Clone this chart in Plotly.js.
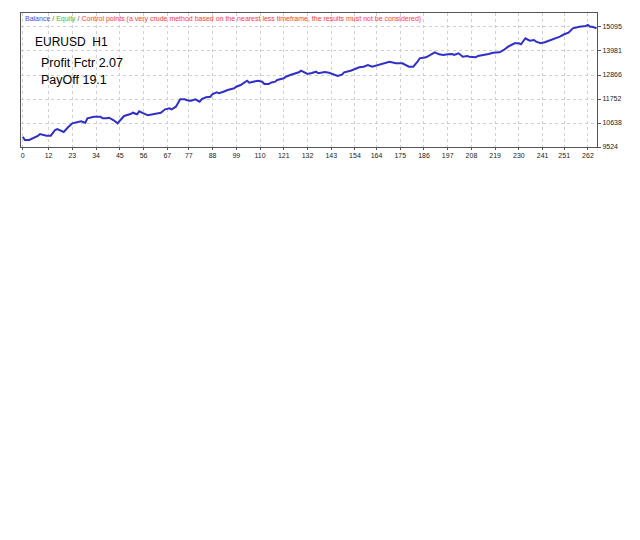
<!DOCTYPE html>
<html>
<head>
<meta charset="utf-8">
<script src="https://cdn.plot.ly/plotly-3.0.1.min.js"></script>
<style>html,body{margin:0;padding:0;background:#fff;}#chart{width:640px;height:540px;}</style>
</head>
<body>
<div id="chart"></div>
<script>
// Trade index (x) and balance (y)
const tradeIdx = [0,1,3,5,7,8,9,11,13,15,16,18,19,21,23,27,29,30,33,36,37,39,40,42,44,45,47,50,51,53,54,56,58,61,63,64,66,68,69,71,73,75,77,78,80,82,83,85,87,88,90,91,93,95,98,99,101,102,104,105,108,109,111,112,114,115,117,118,121,122,124,125,128,129,131,132,134,136,137,139,140,142,144,146,148,149,152,154,156,158,160,162,163,165,167,170,173,174,176,179,181,183,184,187,189,191,193,195,197,199,200,202,204,206,207,210,211,214,216,218,221,223,225,228,230,231,233,235,237,238,240,242,244,247,249,251,253,255,258,261,262,263,264,266];
const balance = [10000,9849,9849,9928,10035,10127,10095,10049,10049,10313,10360,10267,10220,10438,10624,10717,10652,10856,10931,10931,10856,10856,10884,10777,10624,10745,10963,11056,11116,11042,11181,11088,10996,11056,11088,11116,11274,11320,11274,11395,11738,11738,11673,11673,11738,11627,11752,11831,11859,11984,12063,12017,12091,12170,12249,12323,12402,12481,12602,12509,12555,12602,12555,12448,12448,12509,12555,12634,12713,12787,12866,12899,12992,13066,12973,12913,12959,13020,12945,12973,13006,12973,12913,12820,12880,12992,13066,13145,13224,13252,13331,13252,13284,13331,13409,13484,13409,13409,13409,13252,13252,13484,13641,13688,13795,13920,13827,13795,13827,13841,13795,13874,13716,13748,13716,13688,13748,13795,13841,13901,13920,14027,14180,14338,14338,14291,14570,14458,14491,14412,14338,14384,14458,14570,14644,14756,14830,15034,15108,15141,15187,15108,15108,15034];
const xTicks = [0,12,23,34,45,56,67,77,88,99,110,121,132,143,154,164,175,186,197,208,219,230,241,251,262];
const yTicks = [9524,10638,11752,12866,13981,15095];

const trace = {
  x: tradeIdx, y: balance, type: 'scatter', mode: 'lines',
  line: {color: '#3030c8', width: 2}, hoverinfo: 'skip'
};
const tickFont = {family: 'Liberation Sans, Arial, sans-serif', size: 7, color: '#222'};
const layout = {
  width: 640, height: 540,
  margin: {l: 21, r: 43, t: 13, b: 393, pad: 0},
  paper_bgcolor: '#ffffff', plot_bgcolor: '#ffffff',
  showlegend: false,
  xaxis: {
    range: [-0.8, 266.2], tickmode: 'array', tickvals: xTicks, ticktext: xTicks.map(String),
    showgrid: true, gridcolor: '#d0d0d0', griddash: 'dot', gridwidth: 1,
    showline: true, linecolor: '#555', linewidth: 1, mirror: true,
    ticks: 'outside', ticklen: 2, tickcolor: '#555', tickfont: tickFont, zeroline: false
  },
  yaxis: {
    range: [9524, 15744], side: 'right', tickmode: 'array', tickvals: yTicks, ticktext: yTicks.map(String),
    showgrid: true, gridcolor: '#d0d0d0', griddash: 'dot', gridwidth: 1,
    showline: true, linecolor: '#555', linewidth: 1, mirror: true,
    ticks: 'outside', ticklen: 3, tickcolor: '#555', tickfont: tickFont, zeroline: false
  },
  annotations: [
    {xref: 'paper', yref: 'paper', x: 0.003, y: 1.0, xanchor: 'left', yanchor: 'top', showarrow: false,
     text: '<span style="color:#4a4ad8">Balance</span><span style="color:#555"> / </span><span style="color:#3cc03c">Equity</span><span style="color:#555"> / </span><span style="color:#ff3a3a">Control points (a very crude method based on the nearest less timeframe, the results must not be considered)</span>',
     font: {family: 'Liberation Sans, Arial, sans-serif', size: 7}},
    {xref: 'paper', yref: 'paper', x: 0.02, y: 0.78, xanchor: 'left', yanchor: 'middle', showarrow: false,
     text: 'EURUSD  H1', font: {family: 'Liberation Sans, Arial, sans-serif', size: 12, color: '#000'}},
    {xref: 'paper', yref: 'paper', x: 0.031, y: 0.625, xanchor: 'left', yanchor: 'middle', showarrow: false,
     text: 'Profit Fctr 2.07', font: {family: 'Liberation Sans, Arial, sans-serif', size: 12.5, color: '#000'}},
    {xref: 'paper', yref: 'paper', x: 0.031, y: 0.50, xanchor: 'left', yanchor: 'middle', showarrow: false,
     text: 'PayOff 19.1', font: {family: 'Liberation Sans, Arial, sans-serif', size: 12.5, color: '#000'}}
  ]
};
Plotly.newPlot('chart', [trace], layout, {displayModeBar: false, staticPlot: true});
</script>
</body>
</html>
